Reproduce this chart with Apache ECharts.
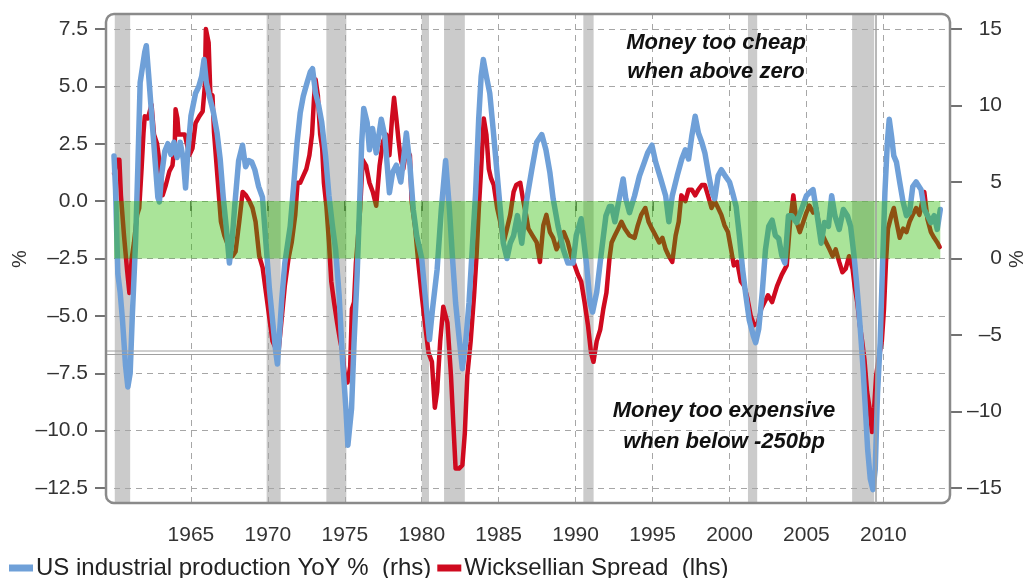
<!DOCTYPE html>
<html>
<head>
<meta charset="utf-8">
<script src="https://cdn.jsdelivr.net/npm/echarts@6/dist/echarts.min.js"></script>
<style>
html,body{margin:0;padding:0;background:#fff;}
#chart{width:1030px;height:578px;}
</style>
</head>
<body>
<div id="chart"></div>
<script>
// ---------- DATA ----------
// US industrial production YoY % (right-hand axis)
const ipYears = [1960.00,1960.10,1960.25,1960.40,1960.55,1960.75,1960.90,1961.05,1961.20,1961.40,1961.55,1961.70,1961.85,1962.00,1962.10,1962.25,1962.40,1962.55,1962.70,1962.85,1962.95,1963.10,1963.30,1963.50,1963.70,1963.90,1964.10,1964.30,1964.50,1964.65,1964.80,1965.00,1965.30,1965.50,1965.70,1965.85,1966.00,1966.20,1966.45,1966.70,1966.90,1967.10,1967.30,1967.50,1967.70,1967.85,1968.10,1968.35,1968.55,1968.75,1968.95,1969.15,1969.40,1969.65,1969.80,1969.95,1970.10,1970.30,1970.50,1970.62,1970.75,1970.90,1971.10,1971.45,1971.67,1971.90,1972.10,1972.30,1972.55,1972.76,1972.90,1973.10,1973.30,1973.50,1973.75,1973.97,1974.20,1974.40,1974.63,1974.85,1975.07,1975.20,1975.44,1975.60,1975.80,1975.95,1976.10,1976.23,1976.45,1976.60,1976.80,1977.04,1977.37,1977.60,1977.90,1978.10,1978.35,1978.64,1978.86,1979.00,1979.23,1979.45,1979.67,1980.00,1980.20,1980.50,1980.70,1981.00,1981.27,1981.55,1981.80,1982.00,1982.20,1982.42,1982.64,1982.85,1983.07,1983.28,1983.50,1983.70,1983.86,1984.00,1984.20,1984.42,1984.64,1984.85,1985.06,1985.30,1985.54,1985.75,1985.97,1986.22,1986.50,1986.80,1987.15,1987.47,1987.80,1988.07,1988.33,1988.54,1988.86,1989.20,1989.50,1989.83,1990.04,1990.36,1990.70,1990.94,1991.10,1991.37,1991.65,1991.97,1992.20,1992.34,1992.55,1992.87,1993.09,1993.26,1993.50,1993.83,1994.15,1994.47,1994.68,1994.96,1995.20,1995.53,1995.85,1996.06,1996.28,1996.60,1996.90,1997.13,1997.34,1997.55,1997.77,1997.98,1998.20,1998.40,1998.66,1998.87,1999.04,1999.26,1999.47,1999.72,2000.00,2000.20,2000.43,2000.64,2000.85,2001.06,2001.28,2001.55,2001.70,2001.90,2002.13,2002.34,2002.55,2002.77,2002.98,2003.20,2003.40,2003.60,2003.83,2004.04,2004.36,2004.68,2005.00,2005.20,2005.43,2005.70,2005.96,2006.17,2006.43,2006.64,2006.85,2007.13,2007.40,2007.66,2007.87,2008.09,2008.26,2008.40,2008.50,2008.68,2008.83,2008.98,2009.15,2009.32,2009.47,2009.62,2009.79,2009.96,2010.10,2010.26,2010.38,2010.53,2010.68,2010.85,2011.06,2011.28,2011.50,2011.70,2011.91,2012.13,2012.45,2012.66,2012.87,2013.09,2013.30,2013.50,2013.70];
const ipValues = [6.7,4.5,-1.0,-2.2,-4.0,-7.0,-8.4,-7.5,-3.5,1.0,6.0,11.5,12.5,13.5,13.9,12.0,10.0,8.0,6.0,4.0,3.7,5.5,7.0,7.5,6.8,7.6,6.6,7.6,6.5,4.6,7.0,9.3,10.8,11.2,11.9,13.0,11.5,10.6,9.6,8.2,6.5,4.0,2.0,-0.3,1.5,3.5,6.4,7.4,6.0,6.4,6.3,5.8,4.7,4.0,2.0,0.0,-2.0,-4.0,-6.0,-6.9,-5.0,-2.7,-0.3,2.1,4.7,7.6,9.5,10.6,11.5,12.2,12.4,10.8,10.0,8.9,6.7,4.1,2.1,0.6,-2.4,-6.6,-9.8,-12.2,-9.8,-5.5,-1.1,3.2,7.6,9.8,8.9,7.1,8.5,6.9,9.1,8.0,4.3,5.6,6.1,5.0,6.9,8.2,6.1,3.2,1.5,0.0,-2.2,-5.3,-3.3,-0.7,3.2,6.4,3.2,0.0,-2.9,-5.1,-7.2,-5.5,-2.9,0.6,4.3,9.1,11.9,13.0,11.9,10.8,8.45,6.1,3.7,1.0,0.0,1.0,1.5,2.8,1.0,3.7,5.8,7.6,8.1,7.1,5.6,3.9,2.1,0.6,-0.3,-0.3,1.5,2.6,-0.3,-2.9,-3.5,-2.2,0.2,2.8,3.4,3.4,2.4,4.1,5.2,3.9,3.0,4.1,5.4,6.3,6.9,7.4,6.3,5.2,4.1,2.4,4.1,5.4,6.5,7.1,6.5,8.0,9.3,8.2,7.6,6.9,5.4,4.3,3.9,5.4,5.8,5.4,5.0,4.3,3.4,1.5,-0.7,-2.4,-4.0,-5.05,-5.5,-4.6,-2.2,0.6,2.1,2.5,1.5,1.3,0.2,-0.3,2.8,2.8,2.35,3.2,4.1,4.3,4.5,2.8,1.0,2.35,2.1,4.1,2.8,1.9,3.2,2.8,2.1,0.2,-1.6,-3.3,-4.6,-7.2,-9.8,-12.5,-14.4,-15.1,-13.8,-8.8,-5.5,0.0,4.3,7.6,9.1,8.0,6.7,6.3,5.0,3.7,2.8,3.0,4.7,5.0,4.5,3.2,2.8,2.35,2.8,1.9,3.2];

// Wicksellian spread (left-hand axis)
const wsYears = [1960.00,1960.20,1960.35,1960.45,1960.65,1960.85,1961.00,1961.15,1961.30,1961.50,1961.64,1961.80,1961.92,1962.00,1962.20,1962.44,1962.60,1962.80,1962.94,1963.16,1963.37,1963.60,1963.80,1963.95,1964.00,1964.12,1964.20,1964.60,1964.90,1965.10,1965.30,1965.55,1965.76,1965.90,1965.97,1966.15,1966.26,1966.40,1966.50,1966.73,1966.95,1967.17,1967.45,1967.70,1967.90,1968.14,1968.36,1968.58,1968.80,1969.00,1969.20,1969.44,1969.66,1969.88,1970.10,1970.30,1970.50,1970.70,1970.90,1971.10,1971.34,1971.55,1971.78,1971.93,1972.10,1972.30,1972.50,1972.70,1972.87,1973.00,1973.10,1973.25,1973.30,1973.40,1973.53,1973.64,1973.80,1973.97,1974.12,1974.30,1974.50,1974.70,1974.85,1975.00,1975.18,1975.35,1975.46,1975.60,1975.72,1975.83,1976.00,1976.16,1976.38,1976.60,1976.82,1977.04,1977.26,1977.48,1977.70,1977.90,1978.07,1978.20,1978.35,1978.50,1978.64,1978.80,1979.00,1979.23,1979.34,1979.56,1979.78,1980.00,1980.22,1980.44,1980.66,1980.85,1981.00,1981.20,1981.40,1981.52,1981.67,1981.90,1982.06,1982.20,1982.42,1982.64,1982.80,1982.96,1983.18,1983.40,1983.56,1983.71,1983.86,1984.03,1984.20,1984.36,1984.50,1984.68,1984.90,1985.10,1985.32,1985.54,1985.75,1985.97,1986.14,1986.40,1986.60,1986.78,1986.93,1987.20,1987.47,1987.68,1987.90,1988.10,1988.33,1988.54,1988.76,1988.97,1989.23,1989.50,1989.72,1989.94,1990.15,1990.36,1990.58,1990.80,1991.00,1991.16,1991.37,1991.60,1991.80,1992.00,1992.20,1992.34,1992.55,1992.77,1992.98,1993.20,1993.50,1993.83,1994.04,1994.26,1994.53,1994.74,1994.96,1995.20,1995.43,1995.64,1995.85,1996.06,1996.28,1996.50,1996.70,1996.87,1997.13,1997.34,1997.55,1997.77,1997.98,1998.20,1998.40,1998.60,1998.83,1999.04,1999.26,1999.47,1999.68,1999.90,2000.10,2000.28,2000.50,2000.74,2000.96,2001.17,2001.38,2001.60,2001.85,2002.06,2002.28,2002.50,2002.77,2003.09,2003.40,2003.72,2003.94,2004.15,2004.36,2004.57,2004.80,2005.00,2005.20,2005.43,2005.64,2005.85,2006.06,2006.28,2006.50,2006.70,2006.90,2007.13,2007.34,2007.55,2007.77,2008.00,2008.13,2008.30,2008.47,2008.62,2008.77,2008.94,2009.10,2009.26,2009.40,2009.53,2009.68,2009.90,2010.04,2010.17,2010.30,2010.53,2010.68,2010.85,2011.06,2011.28,2011.50,2011.70,2011.91,2012.13,2012.34,2012.66,2012.87,2013.09,2013.30,2013.50,2013.66];
const wsValues = [1.2,1.8,1.8,0.25,-1.5,-3.0,-4.0,-2.5,-1.8,-0.6,-0.3,1.5,3.0,3.7,3.6,4.2,2.9,2.5,1.8,0.25,0.7,1.3,1.55,2.5,4.0,3.6,2.9,2.9,2.0,2.3,3.4,3.7,3.9,5.0,7.5,6.9,4.7,4.6,3.0,1.0,-0.9,-1.5,-2.0,-2.4,-2.2,-0.9,0.4,0.25,0.0,-0.3,-0.9,-2.4,-2.9,-4.0,-5.1,-6.1,-6.4,-6.5,-5.1,-3.7,-2.5,-1.8,-0.6,0.8,0.8,1.1,1.4,2.0,2.9,4.5,5.3,4.6,4.0,2.9,2.3,0.8,-0.2,-1.8,-3.5,-4.4,-5.3,-6.1,-6.6,-7.6,-7.9,-7.2,-4.7,-4.4,-2.7,-1.8,-0.3,1.8,1.55,0.8,0.4,-0.2,1.55,2.6,2.9,2.0,3.6,4.5,3.6,2.6,1.8,1.4,2.3,2.0,0.0,-1.1,-2.7,-4.1,-5.4,-6.6,-7.0,-9.0,-8.3,-6.1,-4.6,-4.6,-5.3,-7.6,-9.8,-11.65,-11.65,-11.5,-10.1,-7.6,-6.1,-4.1,-2.4,-0.3,1.4,3.6,2.9,1.4,1.0,0.7,-0.3,-0.9,-1.8,-1.2,-0.6,0.4,0.7,0.8,0.0,-0.6,-1.2,-1.5,-1.8,-2.65,-1.06,-0.6,-1.35,-1.6,-2.1,-1.8,-1.35,-1.8,-2.4,-2.8,-3.2,-3.5,-4.4,-5.4,-6.6,-7.0,-6.1,-5.6,-4.7,-4.0,-2.5,-1.8,-1.5,-1.2,-0.9,-1.2,-1.5,-1.6,-1.06,-0.6,-0.3,-0.9,-1.2,-1.5,-1.8,-1.6,-2.1,-2.4,-2.65,-1.5,-0.9,0.25,0.0,0.5,0.5,0.25,0.5,0.7,0.7,0.25,-0.3,0.0,-0.3,-0.6,-1.06,-1.35,-2.1,-2.8,-2.65,-3.5,-3.7,-4.25,-5.0,-5.4,-5.3,-4.7,-4.4,-4.1,-4.4,-3.7,-3.2,-2.8,-0.9,0.25,-0.9,-1.35,-0.9,-0.5,-0.2,-0.5,-0.3,-1.2,-1.5,-1.8,-2.1,-2.4,-2.1,-2.65,-3.1,-2.95,-2.4,-2.95,-3.7,-4.4,-5.4,-6.1,-6.9,-8.3,-9.0,-10.06,-9.0,-7.6,-6.9,-6.1,-4.7,-2.65,-1.2,-0.6,-0.3,-0.9,-1.6,-1.2,-1.35,-0.9,-0.6,-0.3,-0.6,0.4,-0.8,-1.35,-1.6,-1.8,-2.0];

// US recessions (shaded), start / end
const recessionStart = [1960.05,1969.92,1973.80,1980.00,1981.45,1990.50,2001.20,2007.97];
const recessionEnd   = [1961.05,1970.83,1975.10,1980.47,1982.80,1991.17,2001.80,2009.40];

// "neutral" zone of the spread (lhs): 0 to -250bp
const neutralTop = 0;
const neutralBottom = -2.5;

// tick labels
const yearTicks = [1965,1970,1975,1980,1985,1990,1995,2000,2005,2010];
const lhsTicks = [7.5,5,2.5,0,-2.5,-5,-7.5,-10,-12.5];
const rhsTicks = [15,10,5,0,-5,-10,-15];

const ipName = 'US industrial production YoY %  (rhs)';
const wsName = 'Wicksellian Spread  (lhs)';

// ---------- CHART ----------
const zip = (xs, ys) => xs.map((x, i) => [x, ys[i]]);
const dash = s => String(s).replace('-', '\u2013');
const FONT = 'Liberation Sans';

const chart = echarts.init(document.getElementById('chart'), null, {renderer: 'canvas'});

const lhsMin = -13.15, lhsMax = 8.15;
const toRhs = v => (v + 2.5) * 1.5;

chart.setOption({
  animation: false,
  backgroundColor: '#ffffff',
  textStyle: {fontFamily: FONT},
  grid: {left: 114, right: 82, top: 14, bottom: 75, containLabel: false},
  legend: {
    data: [ipName, wsName],
    left: 4, top: 551,
    icon: 'rect', itemWidth: 24, itemHeight: 7, itemGap: 6,
    textStyle: {fontSize: 24, color: '#222', fontFamily: FONT, padding: [0, 0, 0, -2]}
  },
  xAxis: {
    type: 'value', min: 1960, max: 2014.2, interval: 5,
    axisLine: {show: false},
    splitLine: {show: false},
    axisTick: {show: true, customValues: yearTicks, length: 10, lineStyle: {color: '#444', width: 1.5}},
    axisLabel: {customValues: yearTicks, fontSize: 21, color: '#333', margin: 22, fontFamily: FONT,
      formatter: v => String(Math.round(v))}
  },
  yAxis: [
    {
      type: 'value', min: lhsMin, max: lhsMax, position: 'left', offset: 8,
      axisLine: {show: false}, splitLine: {show: false},
      axisTick: {show: true, customValues: lhsTicks, length: 11, lineStyle: {color: '#444', width: 1.5}},
      axisLabel: {customValues: lhsTicks, fontSize: 21, color: '#333', margin: 18, fontFamily: FONT,
        formatter: v => dash(Number(v).toFixed(1))}
    },
    {
      type: 'value', min: toRhs(lhsMin), max: toRhs(lhsMax), position: 'right', offset: 2,
      axisLine: {show: false}, splitLine: {show: false},
      axisTick: {show: true, customValues: rhsTicks, length: 12, lineStyle: {color: '#444', width: 1.5}},
      axisLabel: {customValues: rhsTicks, fontSize: 21, color: '#333', margin: 52, align: 'right', fontFamily: FONT,
        formatter: v => dash(Math.round(v))}
    }
  ],
  series: [
    { // dashed grid lines
      type: 'line', name: 'gridlines', data: [], yAxisIndex: 0, z: 1, silent: true,
      markLine: {
        silent: true, symbol: 'none', label: {show: false}, animation: false, z: 1,
        lineStyle: {type: [6, 5], color: '#a6a6a6', width: 1},
        emphasis: {disabled: true},
        data: lhsTicks.map(v => ({yAxis: v})).concat(yearTicks.map(v => ({xAxis: v})))
      }
    },
    { // recession shading
      type: 'line', name: 'recessions', data: [], yAxisIndex: 0, z: 0, silent: true,
      markArea: {
        silent: true, z: 0,
        itemStyle: {color: 'rgba(140,140,140,0.45)'},
        data: recessionStart.map((s, i) => [{xAxis: s, yAxis: lhsMax}, {xAxis: recessionEnd[i], yAxis: lhsMin}])
      }
    },
    {
      type: 'line', name: wsName, yAxisIndex: 0, z: 3,
      data: zip(wsYears, wsValues), showSymbol: false, symbol: 'none',
      lineStyle: {color: '#cf0a1f', width: 4.5, cap: 'round', join: 'round'},
      itemStyle: {color: '#cf0a1f'}
    },
    {
      type: 'line', name: ipName, yAxisIndex: 1, z: 4,
      data: zip(ipYears, ipValues), showSymbol: false, symbol: 'none',
      lineStyle: {color: '#6fa0d8', width: 5.5, cap: 'round', join: 'round'},
      itemStyle: {color: '#6fa0d8'}
    },
    { // neutral green band, drawn over the lines, translucent
      type: 'line', name: 'neutral', data: [], yAxisIndex: 0, z: 10, silent: true,
      markArea: {
        silent: true, z: 10,
        itemStyle: {color: 'rgba(42,187,0,0.4)'},
        data: [[{xAxis: ipYears[0], yAxis: neutralTop}, {xAxis: ipYears[ipYears.length - 1], yAxis: neutralBottom}]]
      }
    }
  ],
  graphic: [
    {type: 'rect', z: 100, silent: true, shape: {x: 106, y: 14, width: 844, height: 489, r: 8},
      style: {fill: 'none', stroke: '#8a8a8a', lineWidth: 2.5}},
    {type: 'line', z: 100, silent: true, shape: {x1: 876, y1: 14, x2: 876, y2: 503}, style: {stroke: '#a0a0a0', lineWidth: 1.5}},
    {type: 'line', z: 100, silent: true, shape: {x1: 107, y1: 351, x2: 876, y2: 351}, style: {stroke: '#a0a0a0', lineWidth: 1}},
    {type: 'line', z: 100, silent: true, shape: {x1: 107, y1: 354.5, x2: 876, y2: 354.5}, style: {stroke: '#a0a0a0', lineWidth: 1}},
    {type: 'text', z: 100, x: 716, y: 43, style: {text: 'Money too cheap', font: 'italic bold 22px "Liberation Sans"', fill: '#111', textAlign: 'center', textVerticalAlign: 'middle'}},
    {type: 'text', z: 100, x: 716, y: 72, style: {text: 'when above zero', font: 'italic bold 22px "Liberation Sans"', fill: '#111', textAlign: 'center', textVerticalAlign: 'middle'}},
    {type: 'text', z: 100, x: 724, y: 411, style: {text: 'Money too expensive', font: 'italic bold 22px "Liberation Sans"', fill: '#111', textAlign: 'center', textVerticalAlign: 'middle'}},
    {type: 'text', z: 100, x: 724, y: 442, style: {text: 'when below -250bp', font: 'italic bold 22px "Liberation Sans"', fill: '#111', textAlign: 'center', textVerticalAlign: 'middle'}},
    {type: 'text', z: 100, x: 20, y: 259, rotation: Math.PI / 2, style: {text: '%', font: '20px "Liberation Sans"', fill: '#333', textAlign: 'center', textVerticalAlign: 'middle'}},
    {type: 'text', z: 100, x: 1017, y: 259, rotation: Math.PI / 2, style: {text: '%', font: '20px "Liberation Sans"', fill: '#333', textAlign: 'center', textVerticalAlign: 'middle'}}
  ]
});
</script>
</body>
</html>
